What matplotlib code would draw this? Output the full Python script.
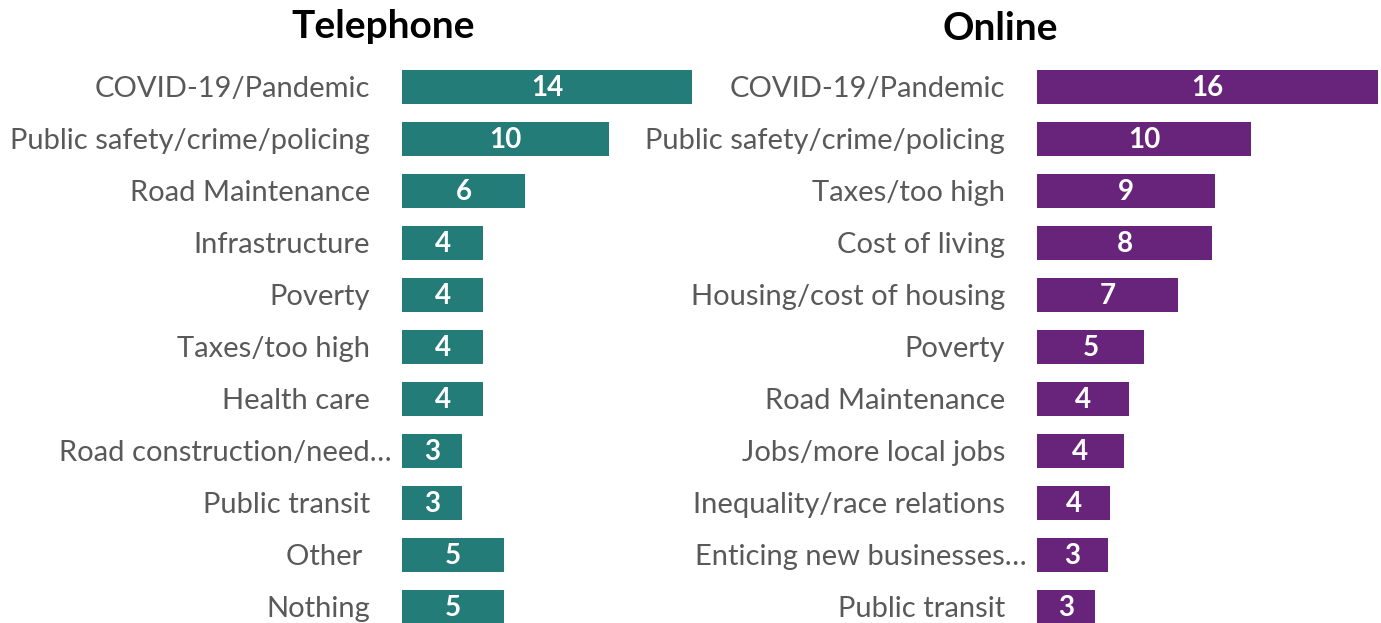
import matplotlib
matplotlib.use('Agg')
import matplotlib.pyplot as plt
import matplotlib.transforms as mtransforms

plt.rcParams['font.family'] = ['Lato', 'DejaVu Sans']

# Telephone survey
tel_labels = ['COVID-19/Pandemic', 'Public safety/crime/policing', 'Road Maintenance',
              'Infrastructure', 'Poverty', 'Taxes/too high', 'Health care',
              'Road construction/need\u2026', 'Public transit', 'Other ', 'Nothing']
tel_values = [13.99, 9.96, 5.94, 3.92, 3.92, 3.92, 3.92, 2.91, 2.91, 4.92, 4.92]
tel_shown = ['14', '10', '6', '4', '4', '4', '4', '3', '3', '5', '5']

# Online survey
onl_labels = ['COVID-19/Pandemic', 'Public safety/crime/policing', 'Taxes/too high',
              'Cost of living', 'Housing/cost of housing', 'Poverty', 'Road Maintenance',
              'Jobs/more local jobs', 'Inequality/race relations',
              'Enticing new businesses\u2026', 'Public transit']
onl_values = [16.43, 10.31, 8.56, 8.43, 6.80, 5.16, 4.43, 4.18, 3.54, 3.42, 2.78]
onl_shown = ['16', '10', '9', '8', '7', '5', '4', '4', '4', '3', '3']

W, H = 1381, 623
fig = plt.figure(figsize=(W / 100, H / 100), dpi=100)
fig.patch.set_facecolor('white')

px_per_unit = 20.75
ax_w = 342
xmax = ax_w / px_per_unit
top_px, bot_px = 61, 633


def panel(left_px, labels, values, shown, color):
    ax = fig.add_axes([left_px / W, (H - bot_px) / H, ax_w / W, (bot_px - top_px) / H])
    y = list(range(len(labels)))
    ax.barh(y, values, height=0.654, color=color)
    ax.set_xlim(0, xmax)
    ax.set_ylim(len(labels) - 0.5, -0.5)
    ax.axis('off')
    vtr = mtransforms.offset_copy(ax.transData, fig=fig, x=0, y=-1, units='dots')
    for yi, v, s in zip(y, values, shown):
        ax.text(v / 2, yi, s, ha='center', va='center', color='white',
                fontsize=20, fontweight='bold', transform=vtr)
    for yi, lab in zip(y, labels):
        off = -10 if lab.endswith('\u2026') else -32
        tr = mtransforms.offset_copy(ax.transData, fig=fig, x=off, y=-2, units='dots')
        ax.text(0, yi, lab, ha='right', va='center', color='#595959',
                fontsize=21, transform=tr)
    return ax


panel(402, tel_labels, tel_values, tel_shown, '#237C77')
panel(1037, onl_labels, onl_values, onl_shown, '#68237A')

fig.text(383 / W, 1 - 27 / H, 'Telephone', ha='center', va='center',
         fontsize=28, fontweight='bold', color='black')
fig.text(1000 / W, 1 - 29 / H, 'Online', ha='center', va='center',
         fontsize=28, fontweight='bold', color='black')

fig.savefig('out.png', dpi=100)
